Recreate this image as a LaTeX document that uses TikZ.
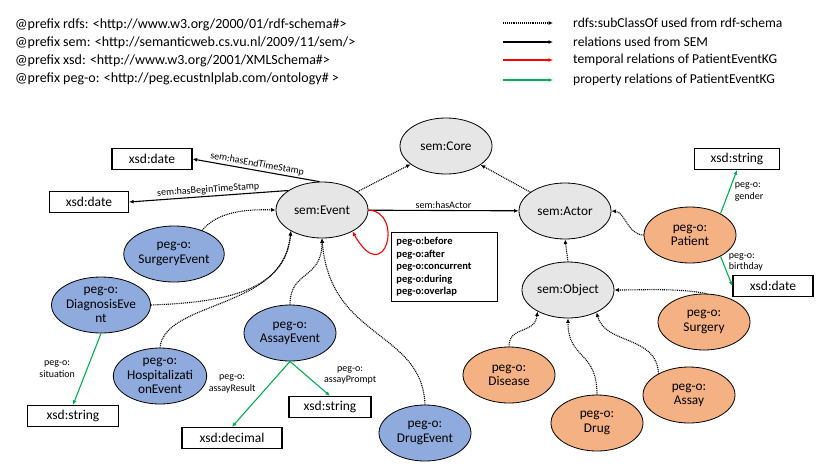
\documentclass[tikz,border=0pt]{standalone}
\usepackage{fontspec}
\setmainfont{Carlito}
\usetikzlibrary{shapes.geometric,arrows.meta}
\definecolor{semgray}{HTML}{E6E6E6}
\definecolor{pegblue}{HTML}{8FAADC}
\definecolor{pegorange}{HTML}{F4B183}
\definecolor{propgreen}{HTML}{00B050}

\tikzset{
  semclass/.style={ellipse, draw, line width=0.8pt, fill=semgray, minimum width=92pt,
    minimum height=56pt, inner sep=0pt, align=center, font=\fontsize{13.3}{14.3}\selectfont},
  eventclass/.style={semclass, fill=pegblue},
  objclass/.style={semclass, fill=pegorange},
  literal/.style={rectangle, draw, line width=1.2pt, minimum height=21pt, inner sep=0pt,
    font=\fontsize{13.5}{15}\selectfont},
  subclass/.style={-{Latex[length=4.5pt,width=4pt]}, line width=1.1pt, dash pattern=on 1pt off 0.9pt},
  semrel/.style={-{Latex[length=4.5pt,width=4pt]}, line width=1.1pt},
  temporal/.style={semrel, red},
  property/.style={semrel, propgreen},
  rellabel/.style={text=black, font=\fontsize{10}{11.5}\selectfont, inner sep=1.5pt, align=center},
  prefixtext/.style={anchor=west, inner sep=0pt, font=\fontsize{14}{16}\selectfont},
}

\begin{document}
\begin{tikzpicture}[x=1pt, y=-1pt]
  \useasboundingbox (0,0) rectangle (830,467);

  % Prefixe
  \node[prefixtext] (pfxrdfs) at (15,25) {@prefix rdfs: <http://www.w3.org/2000/01/rdf-schema\#>};
  \node[prefixtext] (pfxsem) at (15,43) {@prefix sem: <http://semanticweb.cs.vu.nl/2009/11/sem/>};
  \node[prefixtext] (pfxxsd) at (15,61) {@prefix xsd: <http://www.w3.org/2001/XMLSchema\#>};
  \node[prefixtext] (pfxpeg) at (15,79) {@prefix peg-o: <http://peg.ecustnlplab.com/ontology\# >};

  % Legende
  \foreach \ly/\lsty/\ltxt in {23/subclass/{rdfs:subClassOf used from rdf-schema},
      42/semrel/{relations used from SEM},
      60/temporal/{temporal relations of PatientEventKG},
      80/property/{property relations of PatientEventKG}} {
    \coordinate (lga\ly) at (503,\ly);
    \coordinate (lgb\ly) at (553,\ly);
    \draw[\lsty] (lga\ly) -- (lgb\ly);
    \node[prefixtext, font=\fontsize{13.6}{15}\selectfont] (lgt\ly) at (573,\ly) {\ltxt};
  }

  % SEM-Klassen
  \node[semclass] (core) at (446,146) {sem:Core};
  \node[semclass] (event) at (322,210) {sem:Event};
  \node[semclass] (actor) at (565,211) {sem:Actor};
  \node[semclass] (object) at (568,290) {sem:Object};

  % Ereignisse
  \node[eventclass] (surgev) at (174,254) {peg-o:\\SurgeryEvent};
  \node[eventclass] (diagev) at (101,305) {peg-o:\\DiagnosisEve\\nt};
  \node[eventclass] (hospev) at (160,376) {peg-o:\\Hospitalizati\\onEvent};
  \node[eventclass] (assayev) at (290,333) {peg-o:\\AssayEvent};
  \node[eventclass] (drugev) at (425,433) {peg-o:\\DrugEvent};

  % Akteure / Objekte
  \node[objclass] (patient) at (690,235) {peg-o:\\Patient};
  \node[objclass] (surgery) at (704,322) {peg-o:\\Surgery};
  \node[objclass] (disease) at (509,375) {peg-o:\\Disease};
  \node[objclass] (drug) at (597,423) {peg-o:\\Drug};
  \node[objclass] (assay) at (689,395) {peg-o:\\Assay};

  % Literale
  \node[literal, minimum width=80pt] (enddate) at (152,159) {xsd:date};
  \node[literal, minimum width=79pt] (begindate) at (89,202) {xsd:date};
  \node[literal, minimum width=85pt] (genderstr) at (737,159) {xsd:string};
  \node[literal, minimum width=80pt] (birthdate) at (773,286) {xsd:date};
  \node[literal, minimum width=91pt] (situationstr) at (73,416) {xsd:string};
  \node[literal, minimum width=82pt] (promptstr) at (330,407) {xsd:string};
  \node[literal, minimum width=100pt] (resultdec) at (232,438) {xsd:decimal};

  % zeitliche Relationen
  \node[draw, line width=0.8pt, anchor=north west, minimum width=106pt, minimum height=69pt,
    inner xsep=5pt, text width=96pt, align=left,
    font=\bfseries\fontsize{10.5}{12.5}\selectfont] (tempbox) at (391,232)
    {peg-o:before\\peg-o:after\\peg-o:concurrent\\peg-o:during\\peg-o:overlap};

  % subClassOf
  \draw[subclass] (event) -- (core);
  \draw[subclass] (actor) -- (core);
  \draw[subclass] (object.north) -- (actor.south);
  \draw[subclass] (surgev.40) .. controls (217,212) and (245,209) .. (event.west);
  \draw[subclass] (diagev.east) .. controls (240,302) and (285,285) .. (event.214);
  \draw[subclass] (hospev.north) .. controls (165,300) and (285,310) .. (event.214);
  \draw[subclass] (assayev.north) .. controls (290,270) and (322,280) .. (event.south);
  \draw[subclass] (drugev.north) .. controls (422,330) and (330,340) .. (event.south);
  \draw[subclass] (patient.west) .. controls (628,235) and (625,212) .. (actor.east);
  \draw[subclass] (surgery.85) .. controls (680,288) and (640,290) .. (object.east);
  \draw[subclass] (disease.north) .. controls (509,325) and (535,335) .. (object.215);
  \draw[subclass] (drug.north) .. controls (597,350) and (568,360) .. (object.south);
  \draw[subclass] (assay.145) .. controls (657,335) and (605,345) .. (object.322);

  % SEM-Relationen
  \draw[semrel] (event) -- node[midway, above, rellabel] {sem:hasActor} (actor);
  \draw[semrel] (event.95) -- node[midway, above, sloped, rellabel] {sem:hasEndTimeStamp} (enddate.east);
  \draw[semrel] (event.150) -- node[midway, above, sloped, rellabel] {sem:hasBeginTimeStamp} (begindate.east);

  % zeitliche Schleife
  \draw[temporal] (event.east) .. controls (405,212) and (385,290) .. (event.-35);

  % Eigenschaften
  \draw[property] (patient.35) -- node[midway, right, xshift=4pt, rellabel, align=left] {peg-o:\\gender} (genderstr.south);
  \draw[property] (patient.-35) -- node[pos=0.2, right, xshift=4pt, rellabel, align=left] {peg-o:\\birthday} (birthdate.west);
  \draw[property] (diagev.south) -- node[midway, left, xshift=-10pt, rellabel] {peg-o:\\situation} (situationstr.north);
  \draw[property] (assayev.south) -- node[pos=0.3, left, xshift=-15pt, yshift=-3pt, rellabel] {peg-o:\\assayResult} (resultdec.north);
  \draw[property] (assayev.south) -- node[pos=0.4, right, xshift=16pt, rellabel] {peg-o:\\assayPrompt} (promptstr.north);
\end{tikzpicture}
\end{document}
